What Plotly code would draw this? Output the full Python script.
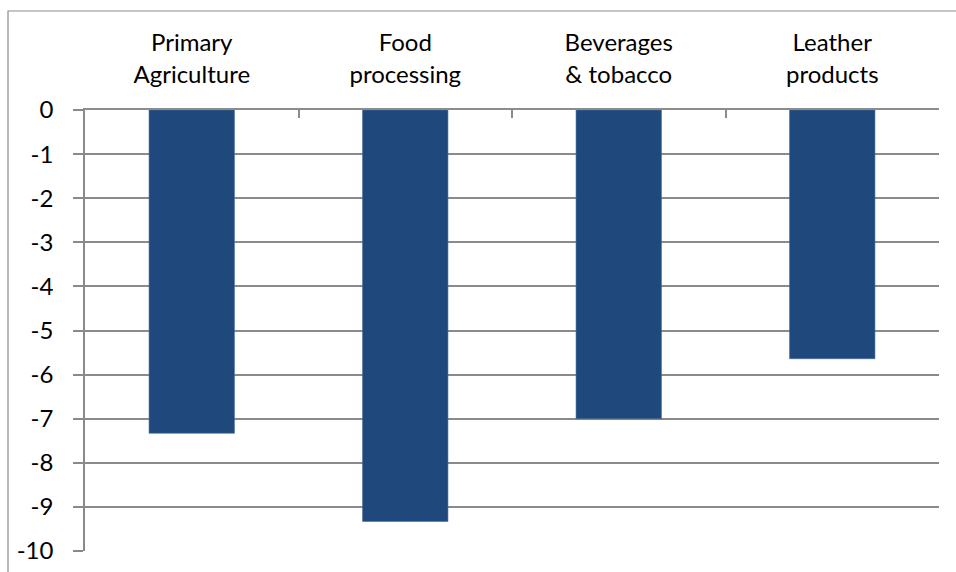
import plotly.graph_objects as go

categories = ["Primary<br>Agriculture", "Food<br>processing", "Beverages<br>& tobacco", "Leather<br>products"]
values = [-7.33, -9.33, -7.0, -5.64]
y_ticks = [0, -1, -2, -3, -4, -5, -6, -7, -8, -9, -10]

W, H = 956, 572
ml, mt = 85, 110
mr = W - 939
mb = H - 551
pw, ph = W - ml - mr, H - mt - mb

fig = go.Figure(go.Bar(
    x=categories, y=values,
    marker=dict(color="#1F497D", line=dict(color="#4a6d99", width=0.6)),
    width=0.4,
))

font = dict(family="Lato, 'Open Sans', sans-serif", size=24, color="#000000")

fig.update_layout(
    width=W, height=H,
    margin=dict(l=ml, r=mr, t=mt, b=mb),
    plot_bgcolor="white", paper_bgcolor="white",
    showlegend=False,
    font=font,
    xaxis=dict(
        side="top", type="category", tickson="boundaries",
        ticks="inside", ticklen=8, tickcolor="#8c8c8c", tickwidth=1.5,
        showgrid=False, showline=True, linecolor="#8c8c8c", linewidth=1.5,
        ticklabelstandoff=16, tickfont=font, automargin=False,
        range=[-0.5, 3.5],
    ),
    yaxis=dict(
        range=[-10, 0], tickvals=y_ticks, ticktext=[str(v) for v in y_ticks],
        showgrid=True, gridcolor="#8a8a8a", gridwidth=1.6,
        showline=True, linecolor="#8a8a8a", linewidth=1.6,
        ticks="outside", ticklen=10, tickcolor="#8a8a8a", tickwidth=1.6,
        ticklabelstandoff=15, tickfont=font, zeroline=False,
        ticklabeloverflow="allow", automargin=False,
    ),
    shapes=[dict(
        type="rect", xref="paper", yref="paper",
        x0=(8 - ml) / pw, x1=1.2, y0=-0.3, y1=1 + (mt - 11) / ph,
        line=dict(color="#8c8c8c", width=1.2), fillcolor="rgba(0,0,0,0)",
        layer="below",
    )],
)

fig.write_html(
    "out.html",
    config={"displayModeBar": False},
    post_script="document.body.style.margin='0';document.body.style.overflow='hidden';",
)
